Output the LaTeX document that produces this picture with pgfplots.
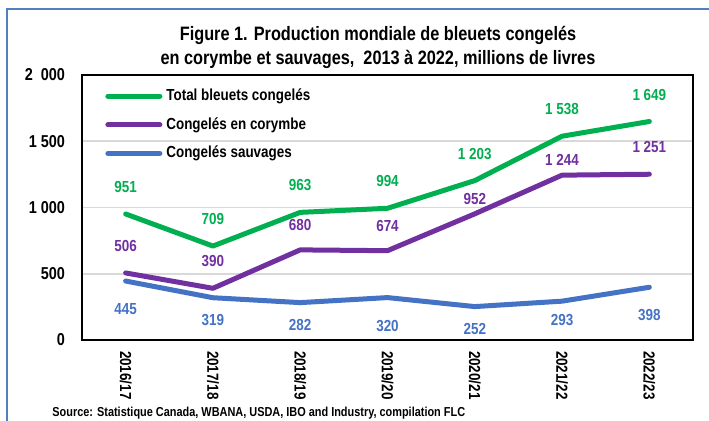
\documentclass[border=0pt]{standalone}
\usepackage{fontspec}
\setmainfont{Liberation Sans}[FakeStretch=0.84]
\usepackage{pgfplots}
\pgfplotsset{compat=1.18}
\definecolor{cgreen}{HTML}{00B050}
\definecolor{cpurple}{HTML}{7030A0}
\definecolor{cblue}{HTML}{4472C4}
\definecolor{cgrid}{HTML}{D9D9D9}
\definecolor{cborder}{HTML}{4F81BD}

\begin{document}
\begin{tikzpicture}
\useasboundingbox (0,0) rectangle (354.5pt,210.5pt);
\fill[white] (0,0) rectangle (354.5pt,210.5pt);
\draw[cborder, line width=1pt] (3.5pt,-5pt) -- (3.5pt,206pt) -- (360pt,206pt);
\node[align=center, font=\fontsize{9.7}{12}\selectfont\bfseries] at (189pt,187pt)
  {Figure 1. Production mondiale de bleuets congelés\\en corymbe et sauvages,\ \ 2013 à 2022, millions de livres};
\node[anchor=west, inner sep=0pt, font=\fontsize{6.5}{7}\selectfont\bfseries] at (26pt,4pt)
  {Source: Statistique Canada, WBANA, USDA, IBO and Industry, compilation FLC};
\begin{axis}[
  at={(41pt,40.5pt)}, anchor=south west,
  scale only axis, width=305.5pt, height=132.5pt,
  xmin=-0.5, xmax=6.5, ymin=0, ymax=2000,
  xtick={0,...,6},
  xticklabels={2016/17,2017/18,2018/19,2019/20,2020/21,2021/22,2022/23},
  ytick={0,500,1000,1500,2000},
  yticklabels={0,500,1 000,1 500,2\ \ 000},
  major tick length=0pt,
  axis line style={black, line width=1pt},
  ymajorgrids, major grid style={cgrid, line width=0.8pt},
  xticklabel style={rotate=-90, anchor=west, font=\fontsize{8}{9}\selectfont\bfseries, xshift=2pt},
  yticklabel style={font=\fontsize{8.6}{9}\selectfont\bfseries, xshift=-5pt},
  /pgf/number format/assume math mode=true,
  /pgf/number format/1000 sep={\ },
  legend style={at={(0.0376,0.965)}, anchor=north west, draw=none, fill=none,
    font=\fontsize{8}{9}\selectfont\bfseries, row sep=3pt, inner sep=0pt},
  legend cell align=left,
  legend image code/.code={\draw[#1, line width=2.5pt, line cap=round] (0pt,0pt) -- (26pt,0pt);},
  lineplot/.style={line width=2.5pt, line cap=round, line join=round, mark=none},
  lbl/.style 2 args={draw=none, mark=none, forget plot, nodes near coords,
    every node near coord/.append style={anchor=center, yshift=#2, text=#1,
      font=\fontsize{8}{9}\selectfont\bfseries}},
  clip=false,
]
\addplot[color=cgreen, lineplot] coordinates {(0,951) (1,709) (2,963) (3,994) (4,1203) (5,1538) (6,1649)};
\addlegendentry{Total bleuets congelés}
\addplot[color=cpurple, lineplot] coordinates {(0,506) (1,390) (2,680) (3,674) (4,952) (5,1244) (6,1251)};
\addlegendentry{Congelés en corymbe}
\addplot[color=cblue, lineplot] coordinates {(0,445) (1,319) (2,282) (3,320) (4,252) (5,293) (6,398)};
\addlegendentry{Congelés sauvages}
% data labels
\addplot[lbl={cgreen}{13.5pt}] coordinates {(0,951) (1,709) (2,963) (3,994) (4,1203) (5,1538) (6,1649)};
\addplot[lbl={cpurple}{13.5pt}] coordinates {(0,506) (1,390) (6,1251)};
\addplot[lbl={cpurple}{12.5pt}] coordinates {(2,680) (3,674)};
\addplot[lbl={cpurple}{7.5pt}] coordinates {(4,952) (5,1244)};
\addplot[lbl={cblue}{-14pt}] coordinates {(0,445) (3,320) (6,398)};
\addplot[lbl={cblue}{-11pt}] coordinates {(1,319) (2,282) (4,252)};
\addplot[lbl={cblue}{-9.5pt}] coordinates {(5,293)};
\end{axis}
\end{tikzpicture}
\end{document}
